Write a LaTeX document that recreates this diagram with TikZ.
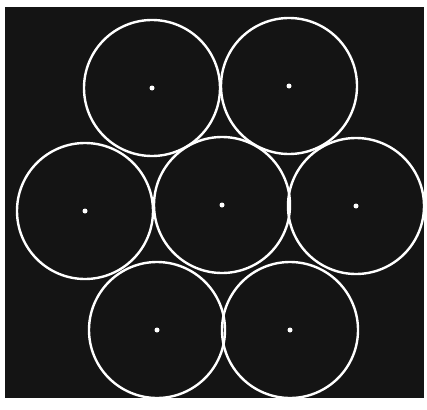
\documentclass[tikz,border=0pt]{standalone}
\begin{document}
\begin{tikzpicture}[x=1pt,y=-1pt,
  ring/.style={circle,draw=white,line width=2.4pt,minimum size=136pt,inner sep=0pt},
  dot/.style={circle,fill=white,minimum size=5pt,inner sep=0pt}]
\fill[white] (0,0) rectangle (427,409);
\fill[black!92] (5,7) rectangle (424,398);
\useasboundingbox (0,0) rectangle (427,409);
\foreach \n/\x/\y in {tl/152/88, tr/289/86, ml/85/211, c/222/205, mr/356/206, bl/157/330, br/290/330}{
  \node[ring] (r\n) at (\x,\y) {};
  \node[dot] (d\n) at (\x,\y) {};
}
\end{tikzpicture}
\end{document}
